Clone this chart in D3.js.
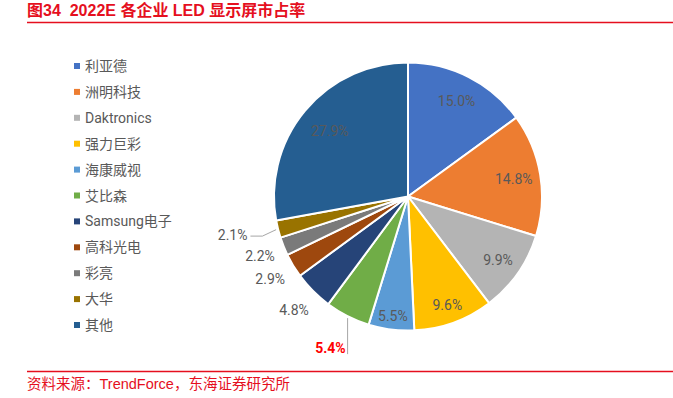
<!DOCTYPE html>
<meta charset="utf-8">
<script src="https://d3js.org/d3.v7.min.js"></script>
<style>
  body { margin: 0; background: #fff; }
  text { font-family: Roboto, "Noto Sans CJK SC", sans-serif; }
</style>
<div id="chart"></div>
<script>

// data
var companies = ["利亚德", "洲明科技", "Daktronics", "强力巨彩", "海康威视", "艾比森",
                 "Samsung电子", "高科光电", "彩亮", "大华", "其他"];
var shares = [15.0, 14.8, 9.9, 9.6, 5.5, 5.4, 4.8, 2.9, 2.2, 2.1, 27.9];
var colors = ["#4472C4", "#ED7D31", "#B4B4B4", "#FFC000", "#5B9BD5", "#70AD47",
              "#264478", "#9E480E", "#7A7A7A", "#997300", "#255E91"];

var title = "图34  2022E 各企业 LED 显示屏市占率";
var source = "资料来源：TrendForce，东海证券研究所";

var width = 673, height = 398;
var red = "#E50F1E";

var svg = d3.select("#chart").append("svg")
    .attr("width", width)
    .attr("height", height);

// title + rules
svg.append("text")
    .attr("x", 27).attr("y", 16)
    .attr("fill", red)
    .style("font-family", "'Liberation Sans', 'Noto Sans CJK SC', sans-serif")
    .style("font-size", "16px")
    .style("font-weight", "bold")
    .style("white-space", "pre")
    .text(title);
svg.append("line")
    .attr("x1", 27).attr("x2", 673).attr("y1", 22.5).attr("y2", 22.5)
    .attr("stroke", red).attr("stroke-width", 1.3);
svg.append("line")
    .attr("x1", 27).attr("x2", 673).attr("y1", 371.5).attr("y2", 371.5)
    .attr("stroke", red).attr("stroke-width", 1.3);
svg.append("text")
    .attr("x", 27).attr("y", 389)
    .attr("fill", red)
    .style("font-family", "'Liberation Sans', 'Noto Sans CJK SC', sans-serif")
    .style("font-size", "14.5px")
    .text(source);

// legend
var legend = svg.append("g").attr("transform", "translate(74,66)");
var ly = d3.scalePoint().domain(companies).range([0, 259]);
var item = legend.selectAll("g").data(companies).enter().append("g")
    .attr("transform", function(d) { return "translate(0," + ly(d) + ")"; });
item.append("rect")
    .attr("x", 0).attr("y", -3).attr("width", 6).attr("height", 6)
    .attr("fill", function(d, i) { return colors[i]; });
item.append("text")
    .attr("x", 11).attr("y", 0).attr("dy", "0.36em")
    .attr("fill", "#595959")
    .style("font-size", "14px")
    .text(function(d) { return d; });

// pie
var cx = 408, cy = 196.5, r = 134;
var g = svg.append("g").attr("transform", "translate(" + cx + "," + cy + ")");

var pie = d3.pie().sort(null).value(function(d) { return d; });
var arcs = pie(shares);
var arc = d3.arc().innerRadius(0).outerRadius(r);

g.selectAll("path").data(arcs).enter().append("path")
    .attr("d", arc)
    .attr("fill", function(d, i) { return colors[i]; })
    .attr("stroke", "#fff")
    .attr("stroke-width", 2)
    .attr("stroke-linejoin", "round");

// label placement: inside for big slices, outside for small ones
function mid(d) { return (d.startAngle + d.endAngle) / 2; }
function polar(a, rad) { return [Math.sin(a) * rad, -Math.cos(a) * rad]; }
var insideR = { 0: 0.8, 1: 0.8, 2: 0.82, 3: 0.86, 4: 0.9, 10: 0.76 };
var outsideR = { 5: 1.28, 6: 1.2, 7: 1.2, 8: 1.19, 9: 1.33 };

arcs.forEach(function(d, i) {
  var a = mid(d), p, anchor = "middle";
  var label = d.data.toFixed(1) + "%";
  var t = g.append("text")
      .attr("fill", "#595959")
      .style("font-size", "14px")
      .attr("dy", "0.36em")
      .text(label);
  if (insideR[i] != null) {
    p = polar(a, r * insideR[i]);
  } else {
    p = polar(a, r * outsideR[i]);
    if (i === 5) {
      // leader line straight down from the slice edge
      var e = polar(a, r);
      g.append("path")
        .attr("d", "M" + e[0] + "," + (e[1] + 2) + "V" + (e[1] + 38))
        .attr("stroke", "#A6A6A6").attr("fill", "none");
      p = [e[0] - 2, e[1] + 32];
      anchor = "end";
      t.attr("fill", "#FF0000").style("font-weight", "bold");
    }
    if (i === 9) {
      var e2 = polar(a, r + 2);
      var q = polar(a, r * 1.12);
      g.append("path")
        .attr("d", "M" + e2[0] + "," + e2[1] + "L" + q[0] + "," + (q[1] + 3) + "H" + (q[0] - 12))
        .attr("stroke", "#A6A6A6").attr("fill", "none");
      p = [q[0] - 15, q[1] + 2];
      anchor = "end";
    }
  }
  t.attr("x", p[0]).attr("y", p[1]).attr("text-anchor", anchor);
});

</script>
